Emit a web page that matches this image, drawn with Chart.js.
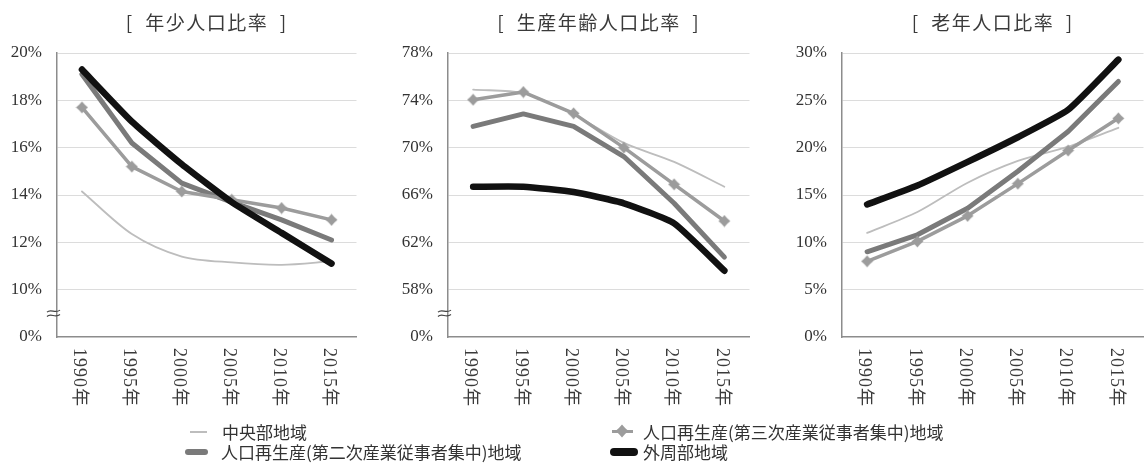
<!DOCTYPE html>
<html>
<head>
<meta charset="utf-8">
<script src="https://cdn.jsdelivr.net/npm/chart.js@4.4.1/dist/chart.umd.min.js"></script>
<style>
  html, body { margin: 0; padding: 0; background: #fff; overflow: hidden; }
  #wrap { position: relative; width: 1145px; height: 464px; overflow: hidden; background: #fff; }
  #wrap canvas.panel { position: absolute; top: 0; }
  .leg { position: absolute; font: 17px "Noto Sans CJK JP", sans-serif; color: #333; line-height: 20px; white-space: nowrap; }
  .sym { position: absolute; }
</style>
</head>
<body>
<div id="wrap">
  <canvas class="panel" id="c1" style="left:0px"></canvas>
  <canvas class="panel" id="c2" style="left:380px"></canvas>
  <canvas class="panel" id="c3" style="left:770px"></canvas>

  <div class="sym" style="left:190px;top:431px;width:17px;height:2px;background:#bdbdbd"></div>
  <div class="leg" id="lg0" style="left:222px;top:422px"></div>

  <div class="sym" style="left:612px;top:430px;width:21px;height:3px;background:#9c9c9c"></div>
  <canvas class="sym" id="legStar" width="14" height="14" style="left:615px;top:424px"></canvas>
  <div class="leg" id="lg1" style="left:643px;top:422px"></div>

  <div class="sym" style="left:185px;top:449px;width:23px;height:6px;border-radius:3px;background:#7a7a7a"></div>
  <div class="leg" id="lg2" style="left:221px;top:442px"></div>

  <div class="sym" style="left:610px;top:448px;width:28px;height:8px;border-radius:4px;background:#111"></div>
  <div class="leg" id="lg3" style="left:643px;top:442px"></div>
</div>

<script>
// Survey years on the x axis
const years = ['1990年', '1995年', '2000年', '2005年', '2010年', '2015年'];

// Region types (legend order)
const regionNames = [
  '中央部地域',
  '人口再生産(第三次産業従事者集中)地域',
  '人口再生産(第二次産業従事者集中)地域',
  '外周部地域'
];

// Panel titles
const panelTitles = ['[  年少人口比率  ]', '[  生産年齢人口比率  ]', '[  老年人口比率  ]'];

// 年少人口比率 (%)
const youthCentral   = [14.15, 12.35, 11.4, 11.15, 11.05, 11.2];
const youthTertiary  = [17.7, 15.2, 14.15, 13.8, 13.45, 12.95];
const youthSecondary = [19.1, 16.2, 14.5, 13.7, 12.95, 12.1];
const youthOuter     = [19.3, 17.1, 15.3, 13.7, 12.4, 11.1];

// 生産年齢人口比率 (%)
const workCentral   = [74.9, 74.6, 72.8, 70.4, 68.8, 66.7];
const workTertiary  = [74.05, 74.7, 72.9, 70.0, 66.9, 63.8];
const workSecondary = [71.8, 72.85, 71.8, 69.25, 65.3, 60.75];
const workOuter     = [66.7, 66.7, 66.25, 65.3, 63.6, 59.6];

// 老年人口比率 (%)
const elderCentral   = [11.0, 13.2, 16.3, 18.6, 20.1, 22.1];
const elderTertiary  = [8.0, 10.1, 12.8, 16.2, 19.7, 23.1];
const elderSecondary = [9.0, 10.8, 13.6, 17.5, 21.7, 27.0];
const elderOuter     = [14.0, 16.0, 18.5, 21.1, 24.0, 29.3];

// Y axis tick values; the lowest value of a broken axis is labelled 0%
const youthTicks = [8, 10, 12, 14, 16, 18, 20];
const workTicks  = [54, 58, 62, 66, 70, 74, 78];
const elderTicks = [0, 5, 10, 15, 20, 25, 30];

document.getElementById('lg0').textContent = regionNames[0];
document.getElementById('lg1').textContent = regionNames[1];
document.getElementById('lg2').textContent = regionNames[2];
document.getElementById('lg3').textContent = regionNames[3];

// Four-pointed star used as the point marker of the tertiary-industry series
function makeStar(size, color) {
  const c = document.createElement('canvas');
  c.width = size; c.height = size;
  const g = c.getContext('2d');
  const m = size / 2, r = size / 2 - 0.5, w = size * 0.22;
  g.fillStyle = color;
  g.beginPath();
  g.moveTo(m, m - r);
  g.lineTo(m + w, m - w);
  g.lineTo(m + r, m);
  g.lineTo(m + w, m + w);
  g.lineTo(m, m + r);
  g.lineTo(m - w, m + w);
  g.lineTo(m - r, m);
  g.lineTo(m - w, m - w);
  g.closePath();
  g.fill();
  return c;
}
const starMarker = makeStar(13, '#9c9c9c');
document.getElementById('legStar').getContext('2d').drawImage(makeStar(14, '#9c9c9c'), 0, 0);

// Titles, clockwise-rotated year labels and the axis break mark
const panelDecor = {
  id: 'panelDecor',
  afterDraw(chart, args, opts) {
    const { ctx, chartArea, scales: { x, y } } = chart;
    ctx.save();
    ctx.fillStyle = '#3a3a3a';
    ctx.font = '19px "Noto Sans CJK JP"';
    ctx.letterSpacing = '1.5px';
    ctx.textAlign = 'center';
    ctx.textBaseline = 'middle';
    ctx.fillText(opts.title, (chartArea.left + chartArea.right) / 2, 23);

    ctx.font = '18px "Liberation Serif", "Noto Sans CJK JP"';
    ctx.letterSpacing = '1px';
    ctx.textAlign = 'left';
    chart.data.labels.forEach((lab, i) => {
      const px = x.getPixelForValue(i) - 3;
      ctx.save();
      ctx.translate(px, chartArea.bottom + 11);
      ctx.rotate(Math.PI / 2);
      ctx.fillText(lab, 0, 0);
      ctx.restore();
    });
    ctx.letterSpacing = '0px';

    if (opts.breakAt !== null) {
      const cy = y.getPixelForValue(opts.breakAt);
      const cx = chartArea.left - 3;
      ctx.strokeStyle = '#444';
      ctx.lineWidth = 1.2;
      [-2.2, 2.2].forEach(k => {
        ctx.beginPath();
        ctx.moveTo(cx - 7, cy + k + 1);
        ctx.bezierCurveTo(cx - 3, cy + k - 3, cx + 1, cy + k + 3, cx + 6, cy + k - 1);
        ctx.stroke();
      });
    }
    ctx.restore();
  }
};

function makeDatasets(central, tertiary, secondary, outer) {
  return [
    { label: regionNames[0], data: central, borderColor: '#bdbdbd', borderWidth: 1.8,
      pointRadius: 0, tension: 0.3, order: 3 },
    { label: regionNames[1], data: tertiary, borderColor: '#9c9c9c', borderWidth: 3.5,
      pointStyle: starMarker, pointRadius: 6, tension: 0, order: 1 },
    { label: regionNames[2], data: secondary, borderColor: '#7a7a7a', borderWidth: 5,
      pointRadius: 0, tension: 0, order: 2 },
    { label: regionNames[3], data: outer, borderColor: '#111111', borderWidth: 6.5,
      pointRadius: 0, tension: 0.15, order: 0 }
  ];
}

function makePanel(id, width, axisWidth, ticks, breakLabelled, title, datasets) {
  const cv = document.getElementById(id);
  cv.width = width; cv.height = 464;
  cv.style.width = width + 'px'; cv.style.height = '464px';
  const min = ticks[0], max = ticks[ticks.length - 1], step = ticks[1] - ticks[0];
  return new Chart(cv, {
    type: 'line',
    data: { labels: years, datasets },
    options: {
      responsive: false,
      animation: false,
      devicePixelRatio: 1,
      layout: { padding: { top: 53, bottom: 127, left: 0, right: 0 } },
      elements: { line: { borderCapStyle: 'round', borderJoinStyle: 'round' } },
      plugins: {
        legend: { display: false },
        tooltip: { enabled: false },
        panelDecor: { title, breakAt: breakLabelled ? (ticks[0] + ticks[1]) / 2 : null }
      },
      scales: {
        x: {
          type: 'category',
          offset: true,
          grid: { display: false, drawTicks: false },
          border: { display: true, color: '#8c8c8c', width: 1.5 },
          ticks: { display: false },
          afterFit(s) { s.height = 0; }
        },
        y: {
          min, max,
          afterFit(s) { s.width = axisWidth; },
          afterBuildTicks(s) { s.ticks = ticks.map(v => ({ value: v })); },
          grid: {
            color: ctx => (ctx.tick && ctx.tick.value === min) ? 'rgba(0,0,0,0)' : '#dcdcdc',
            lineWidth: 1, drawTicks: false
          },
          border: { display: true, color: '#8c8c8c', width: 1.5 },
          ticks: {
            stepSize: step,
            padding: 15,
            color: '#333',
            font: { family: '"Liberation Serif"', size: 17 },
            callback: v => (breakLabelled && v === min) ? '0%' : v + '%'
          }
        }
      }
    },
    plugins: [panelDecor]
  });
}

makePanel('c1', 366, 57, youthTicks, true, panelTitles[0],
  makeDatasets(youthCentral, youthTertiary, youthSecondary, youthOuter));
makePanel('c2', 379, 68, workTicks, true, panelTitles[1],
  makeDatasets(workCentral, workTertiary, workSecondary, workOuter));
makePanel('c3', 383, 72, elderTicks, false, panelTitles[2],
  makeDatasets(elderCentral, elderTertiary, elderSecondary, elderOuter));
</script>
</body>
</html>
